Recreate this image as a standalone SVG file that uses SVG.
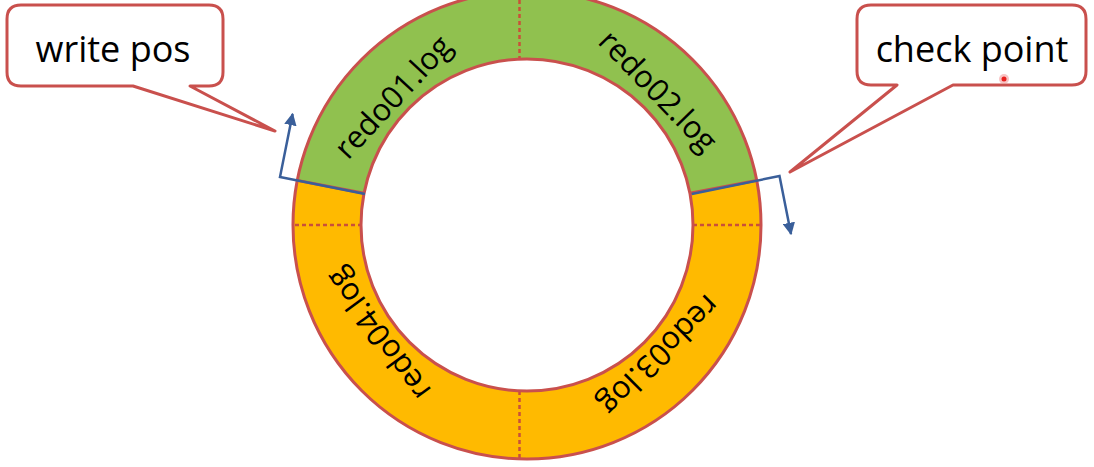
<svg xmlns="http://www.w3.org/2000/svg" width="1094" height="467" viewBox="0 0 1094 467">
<style>
.seg-g{fill:#90C14F;stroke:none}
.seg-o{fill:#FFBA00;stroke:none}
.edge{fill:none;stroke:#C9504D;stroke-width:3}
.div{fill:none;stroke:#C9503A;stroke-width:2.5;stroke-dasharray:4 3}
.lbl{font-family:"Open Sans","Liberation Sans",sans-serif;font-size:31px;fill:#000;text-anchor:middle;dominant-baseline:central}
.call{fill:#fff;stroke:#C9504D;stroke-width:3;stroke-linejoin:round}
.ctext{font-family:"Open Sans","Liberation Sans",sans-serif;font-size:36px;fill:#000;text-anchor:middle}
.ptr{fill:none;stroke:#3A5F9A;stroke-width:2.5;stroke-linejoin:miter}
</style>
<defs>
<marker id="ah" viewBox="0 0 10 10" refX="9" refY="5" markerWidth="5" markerHeight="5" orient="auto" markerUnits="strokeWidth">
<path d="M0,0 L10,5 L0,10 Z" fill="#3A5F9A"/>
</marker>
</defs>
<rect width="1094" height="467" fill="#fff"/>
<g id="ring">
<path class="seg-g" d="M297.3,180.4 A234,234 0 0 1 756.7,180.4 L689.9,193.3 A166,166 0 0 0 364.1,193.3 Z"/>
<path class="seg-o" d="M756.7,180.4 A234,234 0 1 1 297.3,180.4 L364.1,193.3 A166,166 0 1 0 689.9,193.3 Z"/>
<line class="div" x1="519.5" y1="0" x2="519.5" y2="59"/>
<line class="div" x1="519.5" y1="391" x2="519.5" y2="459"/>
<line class="div" x1="295" y1="225" x2="361" y2="225"/>
<line class="div" x1="693" y1="225" x2="761" y2="225"/>
<circle class="edge" cx="527" cy="225" r="234"/>
<circle class="edge" cx="527" cy="225" r="166"/>
<line class="edge" x1="297.3" y1="180.4" x2="364.1" y2="193.3"/>
<line class="edge" x1="756.7" y1="180.4" x2="689.9" y2="193.3"/>
</g>
<g id="redo01"><text class="lbl" transform="translate(392,96) rotate(-47)">redo01.log</text></g>
<g id="redo02"><text class="lbl" transform="translate(659,90) rotate(46)">redo02.log</text></g>
<g id="redo03"><text class="lbl" transform="translate(660,356) rotate(135)">redo03.log</text></g>
<g id="redo04"><text class="lbl" transform="translate(377,335) rotate(234)">redo04.log</text></g>
<g id="connectors">
<polyline class="ptr" points="365,194 280,177 292.6,114" marker-end="url(#ah)"/>
<polyline class="ptr" points="691.7,194 779.5,176 791,234" marker-end="url(#ah)"/>
</g>
<g id="callout-write-pos">
<path class="call" d="M21,5 H209 Q223,5 223,19 V72 Q223,86 209,86 H190 L275,131 L133,86 H21 Q7,86 7,72 V19 Q7,5 21,5 Z"/>
<text class="ctext" x="113" y="62">write pos</text>
</g>
<g id="callout-check-point">
<path class="call" d="M871,5 H1072 Q1086,5 1086,19 V71 Q1086,85 1072,85 H953 L790,172 L897,85 H871 Q857,85 857,71 V19 Q857,5 871,5 Z"/>
<text class="ctext" x="972" y="62">check point</text>
</g>
<g id="pointer-dot">
<circle cx="1004" cy="79" r="5" fill="#F28B8B" opacity="0.5"/>
<circle cx="1004" cy="79" r="2.5" fill="#E8201E"/>
</g>
</svg>
